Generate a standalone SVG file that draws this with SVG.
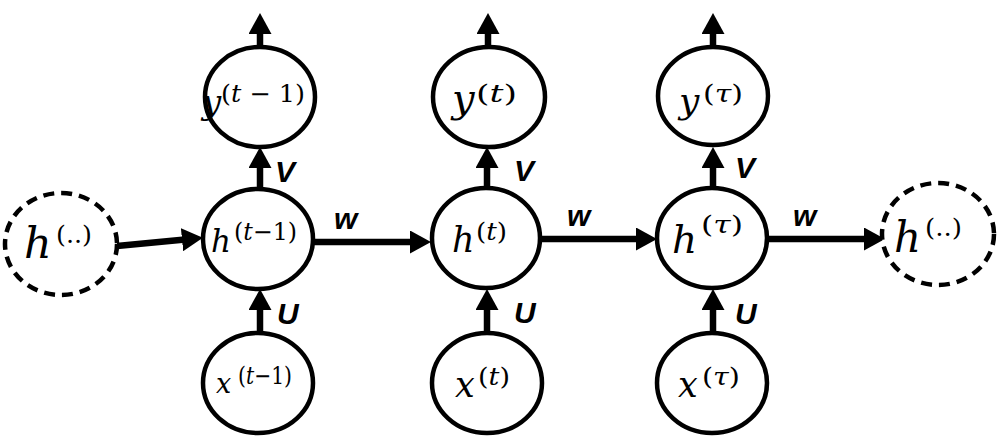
<svg xmlns="http://www.w3.org/2000/svg" width="1000" height="441" viewBox="0 0 1000 441">
<style>
.node{fill:#fff;stroke:#000;stroke-width:4.5}
.dash{fill:#fff;stroke:#000;stroke-width:4.5;stroke-dasharray:11 7}
.edge{stroke:#000;stroke-width:6.5;fill:none}
.v{font-family:"DejaVu Serif","Liberation Serif",serif;font-style:italic;fill:#000}
.s{font-family:"DejaVu Serif","Liberation Serif",serif;font-size:24px;fill:#000}
.i{font-style:italic}
.lbl{font-family:"Liberation Sans",Arial,sans-serif;font-weight:bold;font-style:italic;font-size:30px;fill:#000}
</style>
<defs>
<marker id="ah" markerUnits="userSpaceOnUse" markerWidth="21" markerHeight="23" viewBox="0 0 21 23" refX="3" refY="11.5" orient="auto">
<path d="M0,0 L21,11.5 L0,23 z" fill="#000"/>
</marker>
</defs>
<rect width="1000" height="441" fill="#fff"/>
<g id="connectors">
<line class="edge" x1="117" y1="246" x2="185" y2="239.5" marker-end="url(#ah)"/>
<line class="edge" x1="314" y1="242" x2="413" y2="242" marker-end="url(#ah)"/>
<line class="edge" x1="541" y1="239" x2="639" y2="239" marker-end="url(#ah)"/>
<line class="edge" x1="768" y1="239" x2="867" y2="239" marker-end="url(#ah)"/>
<line class="edge" x1="260" y1="333" x2="260" y2="307" marker-end="url(#ah)"/>
<line class="edge" x1="487" y1="333" x2="487" y2="307" marker-end="url(#ah)"/>
<line class="edge" x1="713" y1="333" x2="713" y2="307" marker-end="url(#ah)"/>
<line class="edge" x1="260" y1="189" x2="260" y2="165" marker-end="url(#ah)"/>
<line class="edge" x1="487" y1="189" x2="487" y2="165" marker-end="url(#ah)"/>
<line class="edge" x1="713" y1="189" x2="713" y2="165" marker-end="url(#ah)"/>
<line class="edge" x1="260" y1="47" x2="260" y2="31" marker-end="url(#ah)"/>
<line class="edge" x1="488" y1="47" x2="488" y2="31" marker-end="url(#ah)"/>
<line class="edge" x1="713" y1="47" x2="713" y2="31" marker-end="url(#ah)"/>
<text class="lbl" x="334" y="229">w</text>
<text class="lbl" x="567" y="226">w</text>
<text class="lbl" x="793" y="226">w</text>
<text class="lbl" x="275" y="182">V</text>
<text class="lbl" x="514" y="181">V</text>
<text class="lbl" x="735" y="178">V</text>
<text class="lbl" x="277" y="324">U</text>
<text class="lbl" x="514" y="323">U</text>
<text class="lbl" x="735" y="324">U</text>
</g>
<g id="h-left">
<ellipse class="dash" cx="61" cy="244" rx="56" ry="51"/>
<text class="v" x="24" y="258" font-size="43">h</text>
<text class="s" x="56" y="243" font-size="26" textLength="36" lengthAdjust="spacingAndGlyphs">(..)</text>
</g>
<g id="h-t-1">
<ellipse class="node" cx="258" cy="239" rx="55" ry="50"/>
<text class="v" x="211" y="252" font-size="31">h</text>
<text class="s" x="234" y="240" textLength="63" lengthAdjust="spacingAndGlyphs">(<tspan class="i">t</tspan>−1)</text>
</g>
<g id="h-t">
<ellipse class="node" cx="486" cy="238" rx="54" ry="50"/>
<text class="v" x="452" y="252" font-size="35">h</text>
<text class="s" x="476" y="240" textLength="31" lengthAdjust="spacingAndGlyphs">(<tspan class="i">t</tspan>)</text>
</g>
<g id="h-tau">
<ellipse class="node" cx="712" cy="238" rx="55" ry="50"/>
<text class="v" x="672" y="253" font-size="39">h</text>
<text class="s" x="701" y="233" textLength="42" lengthAdjust="spacingAndGlyphs">(<tspan class="i">τ</tspan>)</text>
</g>
<g id="h-right">
<ellipse class="dash" cx="938" cy="234" rx="56" ry="51"/>
<text class="v" x="894" y="252" font-size="42">h</text>
<text class="s" x="925" y="236" font-size="26" textLength="37" lengthAdjust="spacingAndGlyphs">(..)</text>
</g>
<g id="y-t-1">
<ellipse class="node" cx="260" cy="97" rx="55" ry="50"/>
<text class="v" x="202" y="114" font-size="34">y</text>
<text class="s" x="221" y="102" font-size="27" textLength="84" lengthAdjust="spacingAndGlyphs">(<tspan class="i">t</tspan> − 1)</text>
</g>
<g id="y-t">
<ellipse class="node" cx="489" cy="97" rx="56" ry="50"/>
<text class="v" x="452" y="112" font-size="40">y</text>
<text class="s" x="476" y="102" font-size="26" textLength="41" lengthAdjust="spacingAndGlyphs">(<tspan class="i">t</tspan>)</text>
</g>
<g id="y-tau">
<ellipse class="node" cx="713" cy="96" rx="55" ry="49"/>
<text class="v" x="679" y="113" font-size="36">y</text>
<text class="s" x="703" y="102" font-size="26" textLength="40" lengthAdjust="spacingAndGlyphs">(<tspan class="i">τ</tspan>)</text>
</g>
<g id="x-t-1">
<ellipse class="node" cx="258" cy="383" rx="55" ry="50"/>
<text class="v" x="216" y="393" font-size="27">x</text>
<text class="s" x="238" y="384" font-size="23" textLength="54" lengthAdjust="spacingAndGlyphs">(<tspan class="i">t</tspan>−1)</text>
</g>
<g id="x-t">
<ellipse class="node" cx="487" cy="383" rx="55" ry="50"/>
<text class="v" x="455" y="397" font-size="35">x</text>
<text class="s" x="478" y="385" font-size="26" textLength="32" lengthAdjust="spacingAndGlyphs">(<tspan class="i">t</tspan>)</text>
</g>
<g id="x-tau">
<ellipse class="node" cx="712" cy="383" rx="55" ry="50"/>
<text class="v" x="678" y="397" font-size="35">x</text>
<text class="s" x="702" y="385" font-size="26" textLength="38" lengthAdjust="spacingAndGlyphs">(<tspan class="i">τ</tspan>)</text>
</g>
</svg>
